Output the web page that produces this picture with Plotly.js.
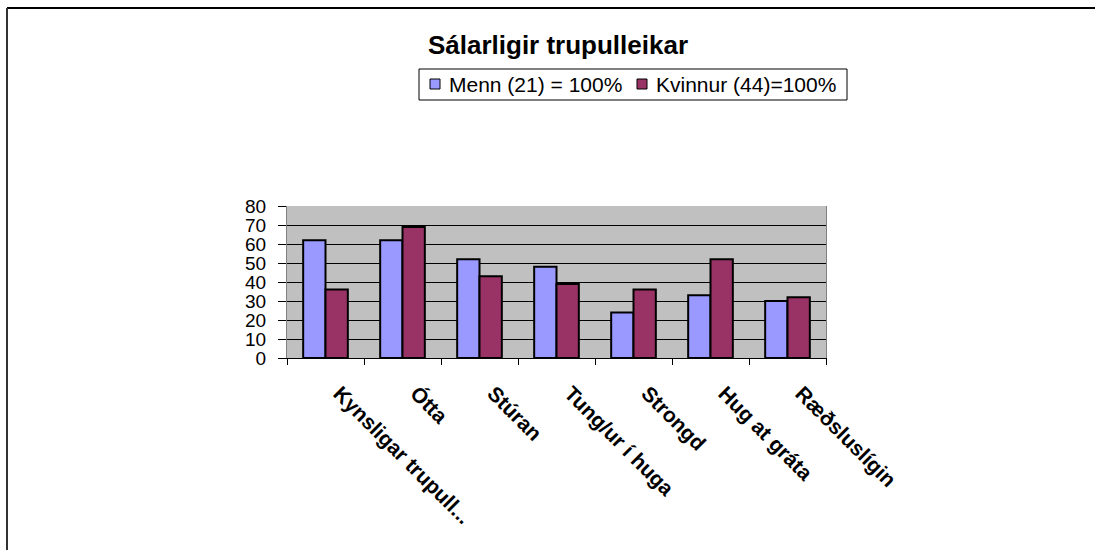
<!DOCTYPE html>
<html>
<head>
<meta charset="utf-8">
<script src="https://cdn.plot.ly/plotly-3.0.1.min.js"></script>
<style>
html,body{margin:0;padding:0;background:#fff;}
#chart{width:1095px;height:550px;}
</style>
</head>
<body>
<div id="chart"></div>
<script>
const categories = ["Kynsligar trupull...", "Ótta", "Stúran", "Tung/ur í huga", "Strongd", "Hug at gráta", "Ræðsluslígin"];
const menn = [62, 62, 52, 48, 24, 33, 30];
const kvinnur = [36, 69, 43, 39, 36, 52, 32];
const seriesNames = ["Menn (21) = 100%", "Kvinnur (44)=100%"];
const seriesColors = ["#9999FF", "#993366"];
const yTicks = [0, 10, 20, 30, 40, 50, 60, 70, 80];

const W = 1095, H = 550;
const L = 287, R = 826, T = 206, B = 358;
function px(x){ return (x - L) / (R - L); }
function py(y){ return (B - y) / (B - T); }

const traces = [
  {type: 'bar', x: categories, y: menn, name: seriesNames[0],
   marker: {color: seriesColors[0], line: {color: '#000', width: 2}}},
  {type: 'bar', x: categories, y: kvinnur, name: seriesNames[1],
   marker: {color: seriesColors[1], line: {color: '#000', width: 2}}}
];

// legend drawn as shapes + annotations (positions in pixels of the page)
const legBox = {x0: 419, x1: 847, y0: 69, y1: 100};
const legItems = [{mx: 430, tx: 447}, {mx: 637, tx: 654}];
const legendShapes = [
  {type: 'rect', xref: 'paper', yref: 'paper', x0: px(legBox.x0), x1: px(legBox.x1),
   y0: py(legBox.y0), y1: py(legBox.y1), line: {color: '#000', width: 1}, fillcolor: '#fff'}
];
const legendAnn = [];
legItems.forEach((it, i) => {
  legendShapes.push({type: 'rect', xref: 'paper', yref: 'paper',
    x0: px(it.mx), x1: px(it.mx + 10), y0: py(79), y1: py(89),
    line: {color: '#000', width: 1}, fillcolor: seriesColors[i]});
  legendAnn.push({xref: 'paper', yref: 'paper', x: px(it.tx), y: py(84),
    xanchor: 'left', yanchor: 'middle', showarrow: false, text: seriesNames[i],
    font: {size: 21, color: '#000'}});
});

const layout = {
  width: W, height: H,
  margin: {l: L, r: W - R, t: T, b: H - B, pad: 0},
  paper_bgcolor: '#fff',
  plot_bgcolor: '#C0C0C0',
  font: {family: '"Liberation Sans", Arial, sans-serif', color: '#000'},
  title: {
    text: 'Sálarligir trupulleikar',
    font: {size: 26, weight: 'bold', color: '#000'},
    xref: 'container', x: 558 / W, xanchor: 'center',
    yref: 'container', y: 1 - 45 / H, yanchor: 'middle'
  },
  barmode: 'group',
  bargap: 0.42,
  bargroupgap: 0,
  showlegend: false,
  xaxis: {
    type: 'category',
    tickangle: 45,
    tickson: 'boundaries',
    ticks: 'outside', ticklen: 6, tickcolor: '#000', tickwidth: 1,
    ticklabelstandoff: 14,
    ticklabelshift: 14,
    tickfont: {size: 21, weight: 'bold', color: '#000'},
    showgrid: false, zeroline: false,
    showline: true, linecolor: '#000', linewidth: 1
  },
  yaxis: {
    range: [0, 80],
    tickvals: yTicks,
    ticktext: yTicks.map(String),
    ticks: 'outside', ticklen: 8, tickcolor: '#000', tickwidth: 1,
    ticklabelstandoff: 8,
    tickfont: {size: 19, color: '#000'},
    showgrid: true, gridcolor: '#000', gridwidth: 1,
    zeroline: false,
    showline: true, linecolor: '#808080', linewidth: 1, mirror: true
  },
  annotations: legendAnn,
  shapes: [
    {type: 'line', xref: 'paper', yref: 'paper', x0: px(7), x1: px(W + 5), y0: py(8), y1: py(8),
     line: {color: '#000', width: 2}},
    {type: 'line', xref: 'paper', yref: 'paper', x0: px(7), x1: px(7), y0: py(8), y1: py(H + 5),
     line: {color: '#333', width: 2}}
  ].concat(legendShapes)
};

Plotly.newPlot('chart', traces, layout, {displayModeBar: false, staticPlot: true});
</script>
</body>
</html>
